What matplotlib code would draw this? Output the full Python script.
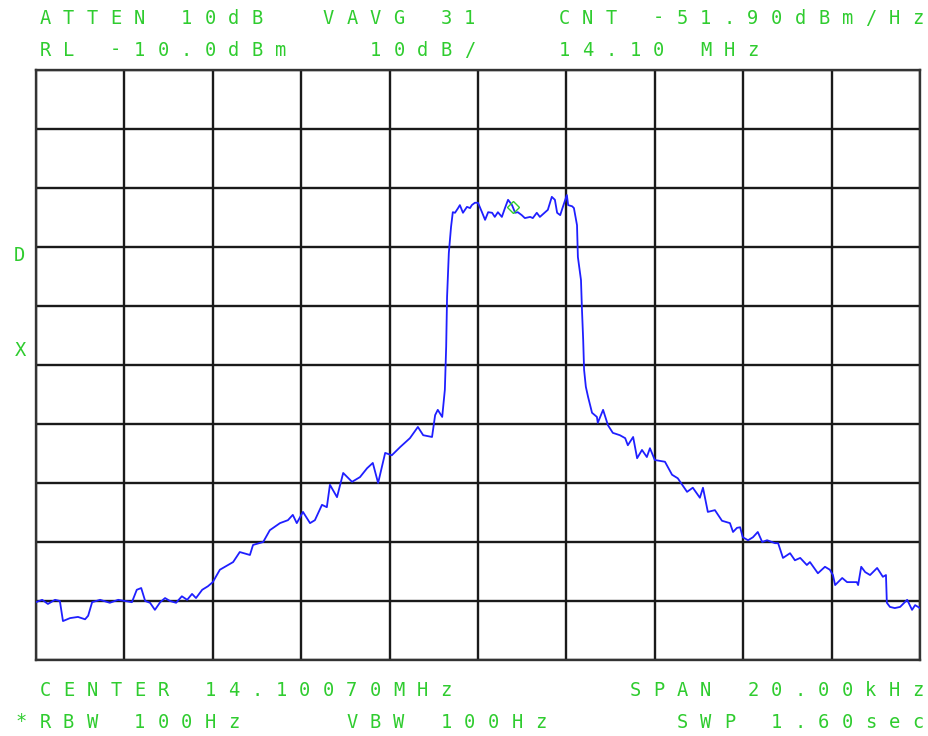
import numpy as np
import matplotlib.pyplot as plt

# trace: offset from centre (kHz) and level (dBm)
freq_khz = [-10.00, -9.86, -9.73, -9.57, -9.46, -9.39, -9.23, -9.05, -8.89, -8.82,
            -8.73, -8.55, -8.33, -8.14, -7.99, -7.83, -7.72, -7.62, -7.53, -7.42,
            -7.31, -7.19, -7.08, -6.97, -6.83, -6.70, -6.58, -6.47, -6.38, -6.24,
            -6.11, -6.00, -5.84, -5.70, -5.54, -5.39, -5.16, -5.09, -4.86, -4.71,
            -4.48, -4.30, -4.19, -4.10, -3.96, -3.80, -3.69, -3.53, -3.42, -3.35,
            -3.19, -3.05, -2.85, -2.67, -2.51, -2.38, -2.26, -2.10, -1.95, -1.76,
            -1.54, -1.36, -1.24, -1.04, -0.97, -0.91, -0.81, -0.75, -0.72, -0.70,
            -0.66, -0.61, -0.57, -0.52, -0.45, -0.41, -0.34, -0.25, -0.18, -0.14,
            -0.07, 0.00, 0.09, 0.16, 0.23, 0.32, 0.38, 0.45, 0.54, 0.61,
            0.68, 0.77, 0.84, 0.90, 0.99, 1.06, 1.18, 1.24, 1.33, 1.40,
            1.52, 1.58, 1.67, 1.74, 1.79, 1.86, 1.92, 2.01, 2.04, 2.13,
            2.17, 2.24, 2.26, 2.33, 2.35, 2.38, 2.40, 2.44, 2.49, 2.58,
            2.69, 2.71, 2.83, 2.94, 3.05, 3.21, 3.33, 3.39, 3.51, 3.60,
            3.71, 3.82, 3.89, 4.00, 4.23, 4.39, 4.52, 4.73, 4.86, 5.02,
            5.09, 5.20, 5.36, 5.52, 5.70, 5.77, 5.86, 5.93, 5.99, 6.11,
            6.22, 6.33, 6.43, 6.54, 6.72, 6.79, 6.90, 7.06, 7.17, 7.29,
            7.44, 7.51, 7.69, 7.85, 7.96, 8.03, 8.08, 8.24, 8.35, 8.57,
            8.60, 8.67, 8.76, 8.87, 9.03, 9.16, 9.23, 9.25, 9.32, 9.43,
            9.55, 9.71, 9.82, 9.89, 10.00]
level_dbm = [-100.2, -99.8, -100.5, -99.8, -100.0, -103.4, -102.9, -102.7, -103.1, -102.5,
             -100.2, -99.8, -100.3, -99.8, -100.0, -100.2, -98.1, -97.8, -100.0, -100.3,
             -101.5, -100.2, -99.5, -100.0, -100.3, -99.2, -99.8, -98.8, -99.5, -98.1,
             -97.5, -96.8, -94.7, -94.1, -93.4, -91.7, -92.2, -90.5, -90.0, -88.0,
             -86.8, -86.3, -85.4, -86.8, -84.9, -86.8, -86.3, -83.7, -84.1, -80.3,
             -82.4, -78.3, -79.8, -79.0, -77.5, -76.6, -80.0, -74.9, -75.3, -73.9,
             -72.4, -70.5, -71.9, -72.2, -68.5, -67.6, -68.8, -64.2, -56.9, -48.5,
             -41.0, -36.6, -34.1, -34.2, -33.4, -32.9, -34.2, -33.2, -33.4, -32.9,
             -32.5, -32.5, -34.1, -35.4, -34.1, -34.2, -34.9, -34.1, -34.9, -33.4,
             -32.0, -32.9, -34.2, -34.1, -34.6, -35.1, -34.9, -35.1, -34.2, -34.9,
             -34.1, -33.7, -31.5, -32.0, -34.2, -34.6, -33.2, -31.2, -32.9, -33.1,
             -33.4, -36.3, -41.7, -45.6, -50.2, -55.8, -60.8, -63.7, -65.4, -68.1,
             -68.8, -69.8, -67.6, -70.2, -71.5, -71.9, -72.4, -73.6, -72.2, -75.8,
             -74.4, -75.6, -74.1, -76.1, -76.4, -78.6, -79.2, -81.5, -80.8, -82.5,
             -80.8, -84.9, -84.6, -86.4, -86.8, -88.3, -87.6, -87.5, -89.2, -89.7,
             -89.2, -88.3, -90.0, -89.7, -90.2, -90.2, -92.7, -91.9, -93.1, -92.7,
             -93.9, -93.4, -95.3, -94.2, -94.7, -95.6, -97.3, -96.1, -96.8, -96.8,
             -97.3, -94.2, -95.1, -95.6, -94.4, -95.9, -95.6, -100.3, -101.0, -101.2,
             -101.0, -99.8, -101.5, -100.7, -101.2]

marker_khz = 0.79
marker_dbm = -33.2

ref_level = -10.0
db_per_div = 10.0
span_khz = 20.0

top_lines = ["ATTEN 10dB  VAVG 31   CNT -51.90dBm/Hz",
             "RL -10.0dBm   10dB/   14.10 MHz"]
bottom_lines = ["CENTER 14.10070MHz       SPAN 20.00kHz",
                "RBW 100Hz    VBW 100Hz     SWP 1.60sec"]

W, H = 929, 736
green = '#2fcc2f'
blue = '#1f1fff'

fig = plt.figure(figsize=(W / 100, H / 100), dpi=100)
ax = fig.add_axes([36 / W, 1 - 660 / H, 884 / W, 590 / H])

ax.plot(freq_khz, level_dbm, color=blue, lw=1.3, zorder=3)
ax.plot([marker_khz], [marker_dbm], marker='D', ms=6, mfc='none', mec=green,
        mew=1.0, zorder=4)

ax.set_xlim(-span_khz / 2, span_khz / 2)
ax.set_ylim(ref_level - 10 * db_per_div, ref_level)
ax.set_xticks(np.linspace(-span_khz / 2, span_khz / 2, 11))
ax.set_yticks(np.arange(ref_level - 10 * db_per_div, ref_level + 1, db_per_div))
ax.tick_params(length=0, labelbottom=False, labelleft=False)
ax.grid(True, color='#1a1a1a', lw=1.7)
for s in ax.spines.values():
    s.set_color('#333333')
    s.set_linewidth(1.7)


def screen_text(line, x0, y, pitch=23.6):
    # analyser font is fixed pitch: place every glyph in its own cell
    for i, ch in enumerate(line):
        if ch == ' ':
            continue
        fig.text((x0 + i * pitch + 7) / W, 1 - y / H, ch, color=green,
                 fontsize=13.5, family='DejaVu Sans Mono', ha='center',
                 va='center')


screen_text(top_lines[0], 38, 18)
screen_text(top_lines[1], 38, 50)
screen_text(bottom_lines[0], 38, 691)
screen_text(bottom_lines[1], 38, 722)
screen_text("*", 14, 722)
screen_text("D", 12, 255)
screen_text("X", 13, 350)

fig.savefig('out.png', dpi=100, facecolor='white')
